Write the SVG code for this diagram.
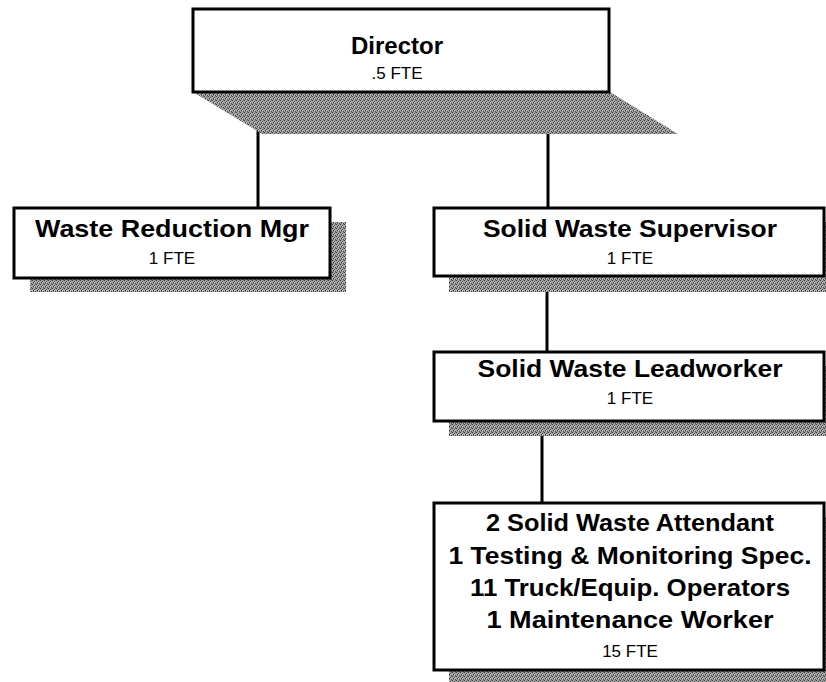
<svg xmlns="http://www.w3.org/2000/svg" width="826" height="682" viewBox="0 0 826 682">
<defs>
<pattern id="dither" width="4" height="4" patternUnits="userSpaceOnUse">
<rect width="4" height="4" fill="#a8a8a8"/>
<rect x="0" y="0" width="1" height="1" fill="#3c3c3c"/>
<rect x="2" y="1" width="1" height="1" fill="#4a4a4a"/>
<rect x="1" y="2" width="1" height="1" fill="#333"/>
<rect x="3" y="3" width="1" height="1" fill="#4a4a4a"/>
<rect x="3" y="0" width="1" height="1" fill="#777"/>
<rect x="1" y="3" width="1" height="1" fill="#777"/>
<rect x="2" y="2" width="1" height="1" fill="#d0d0d0"/>
</pattern>
</defs>
<style>
.box{fill:#fff;stroke:#000;stroke-width:3}
.shadow{fill:url(#dither);stroke:none}
.conn{stroke:#000;stroke-width:3;fill:none}
.t{font-family:"Liberation Sans",Arial,sans-serif;font-weight:bold;font-size:24px;fill:#000;text-anchor:middle}
.f{font-family:"Liberation Sans",Arial,sans-serif;font-size:17px;fill:#000;text-anchor:middle}
</style>
<rect width="826" height="682" fill="#fff"/>
<g id="connectors">
<line class="conn" x1="258" y1="130" x2="258" y2="208"/>
<line class="conn" x1="548" y1="130" x2="548" y2="208"/>
<line class="conn" x1="547" y1="290" x2="547" y2="352"/>
<line class="conn" x1="542" y1="435" x2="542" y2="503"/>
</g>
<g id="director">
<polygon class="shadow" points="193,92 610,92 678,134 262,134"/>
<rect class="box" x="193" y="9" width="416" height="83"/>
<text class="t" x="397" y="54" textLength="92" lengthAdjust="spacingAndGlyphs">Director</text>
<text class="f" x="397" y="79">.5 FTE</text>
</g>
<g id="waste-reduction-mgr">
<rect class="shadow" x="30" y="222" width="316" height="70"/>
<rect class="box" x="14" y="208" width="316" height="70"/>
<text class="t" x="172" y="237" textLength="274" lengthAdjust="spacingAndGlyphs">Waste Reduction Mgr</text>
<text class="f" x="172" y="264">1 FTE</text>
</g>
<g id="solid-waste-supervisor">
<rect class="shadow" x="449" y="222" width="380" height="70"/>
<rect class="box" x="434" y="208" width="390" height="68"/>
<text class="t" x="630" y="237" textLength="294" lengthAdjust="spacingAndGlyphs">Solid Waste Supervisor</text>
<text class="f" x="630" y="264">1 FTE</text>
</g>
<g id="solid-waste-leadworker">
<rect class="shadow" x="449" y="366" width="380" height="70"/>
<rect class="box" x="434" y="352" width="390" height="69"/>
<text class="t" x="630" y="377" textLength="305" lengthAdjust="spacingAndGlyphs">Solid Waste Leadworker</text>
<text class="f" x="630" y="404">1 FTE</text>
</g>
<g id="field-staff">
<rect class="shadow" x="449" y="517" width="380" height="170"/>
<rect class="box" x="434" y="503" width="390" height="167"/>
<text class="t" x="630" y="531" textLength="288" lengthAdjust="spacingAndGlyphs">2 Solid Waste Attendant</text>
<text class="t" x="630" y="564" textLength="363" lengthAdjust="spacingAndGlyphs">1 Testing &amp; Monitoring Spec.</text>
<text class="t" x="630" y="596" textLength="320" lengthAdjust="spacingAndGlyphs">11 Truck/Equip. Operators</text>
<text class="t" x="630" y="628" textLength="287" lengthAdjust="spacingAndGlyphs">1 Maintenance Worker</text>
<text class="f" x="630" y="657">15 FTE</text>
</g>
</svg>
